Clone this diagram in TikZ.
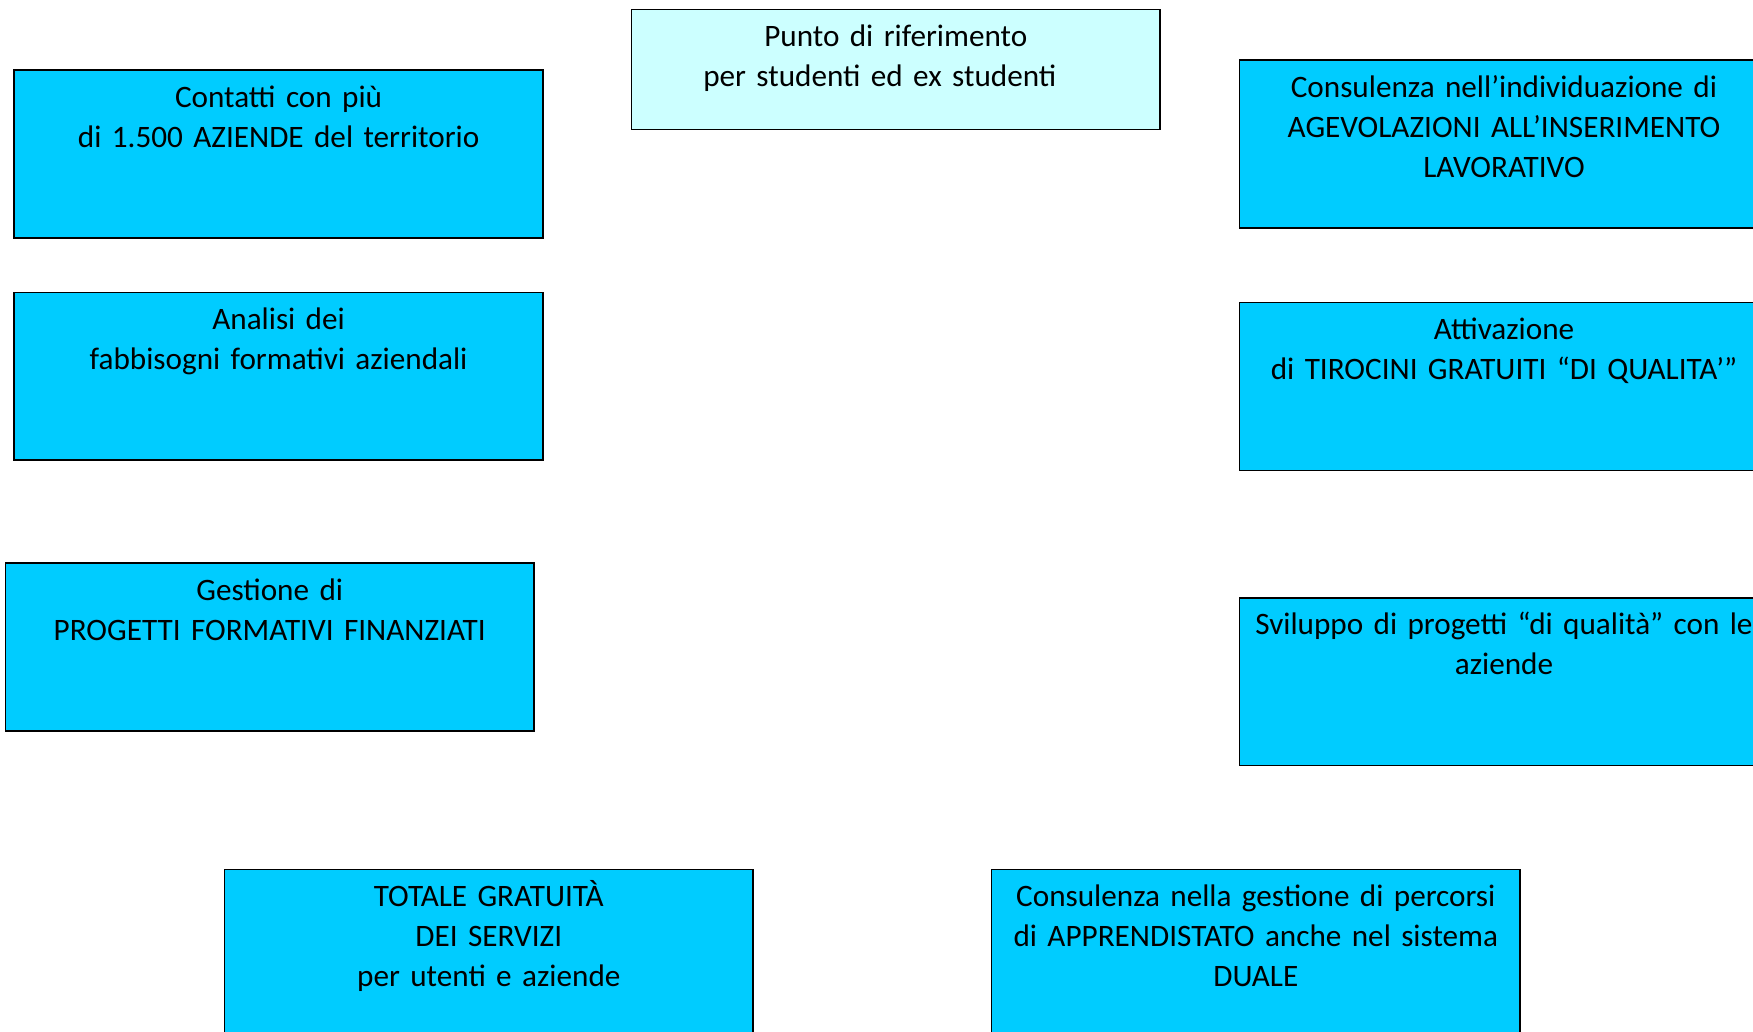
\documentclass[tikz,border=0pt]{standalone}
\usepackage{fontspec}
\setmainfont{Carlito}
\usetikzlibrary{positioning}
\definecolor{azzurro}{HTML}{00CCFF}
\definecolor{celeste}{HTML}{CCFFFF}

\begin{document}
\begin{tikzpicture}[
        x=0.5pt, y=-0.5pt,
        servizio/.style={draw, line width=0.8pt, fill=azzurro, anchor=north west,
            text width=260pt, inner xsep=2.2pt, inner ysep=0pt, align=center,
            text height=18.5pt, text depth=65.35pt,
            font=\fontsize{15.6}{20}\selectfont},
        riferimento/.style={servizio, fill=celeste,
            text height=18.3pt, text depth=41.55pt}
    ]
    \clip (0,0) rectangle (1753,1032);

    \node[riferimento] (punto) at (630.6,8.9) {Punto di riferimento\\per studenti ed ex studenti\hspace{16pt}\mbox{}};

    % colonna sinistra
    \node[servizio] (contatti) at (13.4,69.3) {Contatti con più\\di 1.500 AZIENDE del territorio};
    \node[servizio] (analisi) at (13.4,291.8) {Analisi dei\\fabbisogni formativi aziendali};
    \node[servizio] (gestione) at (4.5,562.4) {Gestione di\\PROGETTI FORMATIVI FINANZIATI};

    % colonna destra
    \node[servizio] (agevolazioni) at (1238.8,59.3) {Consulenza nell’individuazione di\\AGEVOLAZIONI ALL’INSERIMENTO\\LAVORATIVO};
    \node[servizio] (tirocini) at (1238.8,301.9) {Attivazione\\di TIROCINI GRATUITI “DI QUALITA’”};
    \node[servizio] (sviluppo) at (1238.8,597.0) {\mbox{Sviluppo di progetti “di qualità” con le}\\aziende};

    % in basso
    \node[servizio] (gratuita) at (223.6,868.7) {TOTALE GRATUITÀ\\DEI SERVIZI\\per utenti e aziende};
    \node[servizio] (apprendistato) at (990.6,868.7) {Consulenza nella gestione di percorsi\\di APPRENDISTATO anche nel sistema\\DUALE};
\end{tikzpicture}
\end{document}
